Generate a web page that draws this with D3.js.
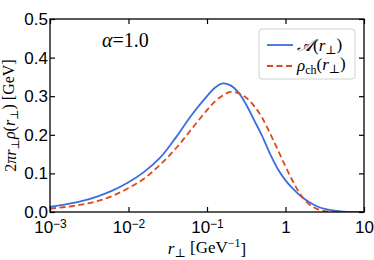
<!DOCTYPE html>
<html>
<head>
<meta charset="utf-8">
<script src="https://cdn.jsdelivr.net/npm/d3@7/dist/d3.min.js"></script>
<style>
  html, body { margin: 0; padding: 0; background: #fff; }
  svg { display: block; }
  .tick text { font-family: "Liberation Sans", Arial, sans-serif; font-size: 17px; fill: #000; }
  .serif { font-family: "Liberation Serif", "DejaVu Serif", serif; }
</style>
</head>
<body>
<svg id="chart" width="374" height="260"></svg>
<script>
// ---- data ----
const log10R = [-3, -2.8, -2.6, -2.4, -2.2, -2, -1.8, -1.6, -1.4, -1.2, -1, -0.9, -0.8, -0.7, -0.6, -0.5, -0.4, -0.3, -0.2, -0.1, 0, 0.1, 0.2, 0.3, 0.4, 0.5, 0.6, 0.7, 0.8, 0.9, 1];
const seriesA = [0.014, 0.020, 0.028, 0.040, 0.056, 0.077, 0.104, 0.140, 0.192, 0.250, 0.300, 0.322, 0.333, 0.328, 0.310, 0.278, 0.238, 0.198, 0.152, 0.112, 0.082, 0.059, 0.040, 0.026, 0.015, 0.008, 0.004, 0.0015, 0.0005, 0.0001, 0.0];
const seriesRho = [0.009, 0.013, 0.019, 0.028, 0.042, 0.062, 0.087, 0.122, 0.164, 0.214, 0.264, 0.286, 0.302, 0.311, 0.308, 0.296, 0.275, 0.245, 0.205, 0.162, 0.118, 0.077, 0.043, 0.020, 0.008, 0.0025, 0.0007, 0.0002, 0.0, 0.0, 0.0];
const xTicks = [1e-3, 1e-2, 1e-1, 1, 10];
const xTickBase = ["10", "10", "10", "1", "10"];
const xTickExp = ["−3", "−2", "−1", "", ""];
const yTicks = [0.0, 0.1, 0.2, 0.3, 0.4, 0.5];

const svg = d3.select("#chart");
const L = 50, R = 364, T = 19, B = 212;
const x = d3.scaleLog().domain([1e-3, 10]).range([L, R]);
const y = d3.scaleLinear().domain([0, 0.5]).range([B, T]);

const blue = "#3a6ee0", red = "#dc4a1c";

// curves
const rVals = log10R.map(e => Math.pow(10, e));
const line = d3.line().x(d => x(d[0])).y(d => y(d[1])).curve(d3.curveCatmullRom.alpha(0.5));
const clip = svg.append("clipPath").attr("id", "clip").append("rect")
  .attr("x", L).attr("y", T).attr("width", R - L).attr("height", B - T);
const plot = svg.append("g").attr("clip-path", "url(#clip)");
plot.append("path").datum(rVals.map((r, i) => [r, seriesA[i]]))
  .attr("d", line).attr("fill", "none").attr("stroke", blue).attr("stroke-width", 1.8);
plot.append("path").datum(rVals.map((r, i) => [r, seriesRho[i]]))
  .attr("d", line).attr("fill", "none").attr("stroke", red).attr("stroke-width", 1.8)
  .attr("stroke-dasharray", "6,3.5");

// axes (inward ticks on all sides)
const gx = svg.append("g").attr("transform", `translate(0,${B})`)
  .call(d3.axisBottom(x).tickValues(xTicks).tickSizeInner(-5).tickSizeOuter(0).tickPadding(9).tickFormat(""));
gx.selectAll(".tick text").each(function(d, i) {
  const t = d3.select(this);
  t.append("tspan").text(xTickBase[i]);
  if (xTickExp[i]) t.append("tspan").attr("dy", "-0.45em").style("font-size", "12px").text(xTickExp[i]);
});
svg.append("g").attr("transform", `translate(0,${T})`)
  .call(d3.axisTop(x).tickValues(xTicks).tickSizeInner(-5).tickSizeOuter(0).tickFormat(""));
svg.append("g").attr("transform", `translate(${L},0)`)
  .call(d3.axisLeft(y).tickValues(yTicks).tickSizeInner(-5).tickSizeOuter(0).tickPadding(2).tickFormat(d3.format(".1f")));
svg.append("g").attr("transform", `translate(${R},0)`)
  .call(d3.axisRight(y).tickValues(yTicks).tickSizeInner(-5).tickSizeOuter(0).tickFormat(""));
svg.selectAll(".domain").remove();
svg.selectAll(".tick line").attr("stroke", "#000").attr("stroke-width", 1.2);
svg.append("rect").attr("x", L).attr("y", T).attr("width", R - L).attr("height", B - T)
  .attr("fill", "none").attr("stroke", "#000").attr("stroke-width", 1.3);

// axis labels
const xl = svg.append("text").attr("class", "serif").attr("x", (L + R) / 2).attr("y", 254)
  .attr("text-anchor", "middle").style("font-size", "17px");
xl.append("tspan").style("font-style", "italic").text("r");
xl.append("tspan").attr("dy", "0.25em").style("font-size", "12px").text("⊥");
xl.append("tspan").attr("dy", "-0.25em").text(" [GeV");
xl.append("tspan").attr("dy", "-0.45em").style("font-size", "12px").text("−1");
xl.append("tspan").attr("dy", "0.45em").text("]");

const yl = svg.append("text").attr("class", "serif")
  .attr("transform", `translate(16,${(T + B) / 2}) rotate(-90)`)
  .attr("text-anchor", "middle").style("font-size", "16px");
yl.append("tspan").text("2");
yl.append("tspan").style("font-style", "italic").text("πr");
yl.append("tspan").attr("dy", "0.25em").style("font-size", "11px").text("⊥");
yl.append("tspan").attr("dy", "-0.25em").style("font-style", "italic").text("ρ");
yl.append("tspan").text("(");
yl.append("tspan").style("font-style", "italic").text("r");
yl.append("tspan").attr("dy", "0.25em").style("font-size", "11px").text("⊥");
yl.append("tspan").attr("dy", "-0.25em").text(") [GeV]");

// annotation
const ann = svg.append("text").attr("class", "serif").attr("x", 102).attr("y", 47).style("font-size", "20px");
ann.append("tspan").style("font-style", "italic").text("α");
ann.append("tspan").text("=1.0");

// legend
const lg = svg.append("g");
lg.append("rect").attr("x", 259).attr("y", 29).attr("width", 96).attr("height", 50).attr("rx", 3)
  .attr("fill", "#fff").attr("fill-opacity", 0.85).attr("stroke", "#d0d0d0").attr("stroke-width", 1);
lg.append("line").attr("x1", 267).attr("x2", 293).attr("y1", 45).attr("y2", 45)
  .attr("stroke", blue).attr("stroke-width", 1.8);
lg.append("line").attr("x1", 267).attr("x2", 293).attr("y1", 66).attr("y2", 66)
  .attr("stroke", red).attr("stroke-width", 1.8).attr("stroke-dasharray", "6,3.5");
const t1 = lg.append("text").attr("class", "serif").attr("x", 297).attr("y", 51).style("font-size", "17px");
t1.append("tspan").style("font-style", "italic").text("𝒜");
t1.append("tspan").text("(");
t1.append("tspan").style("font-style", "italic").text("r");
t1.append("tspan").attr("dy", "0.25em").style("font-size", "12px").text("⊥");
t1.append("tspan").attr("dy", "-0.25em").text(")");
const t2 = lg.append("text").attr("class", "serif").attr("x", 297).attr("y", 71).style("font-size", "17px");
t2.append("tspan").style("font-style", "italic").text("ρ");
t2.append("tspan").attr("dy", "0.25em").style("font-size", "12px").text("ch");
t2.append("tspan").attr("dy", "-0.25em").text("(");
t2.append("tspan").style("font-style", "italic").text("r");
t2.append("tspan").attr("dy", "0.25em").style("font-size", "12px").text("⊥");
t2.append("tspan").attr("dy", "-0.25em").text(")");
</script>
</body>
</html>
